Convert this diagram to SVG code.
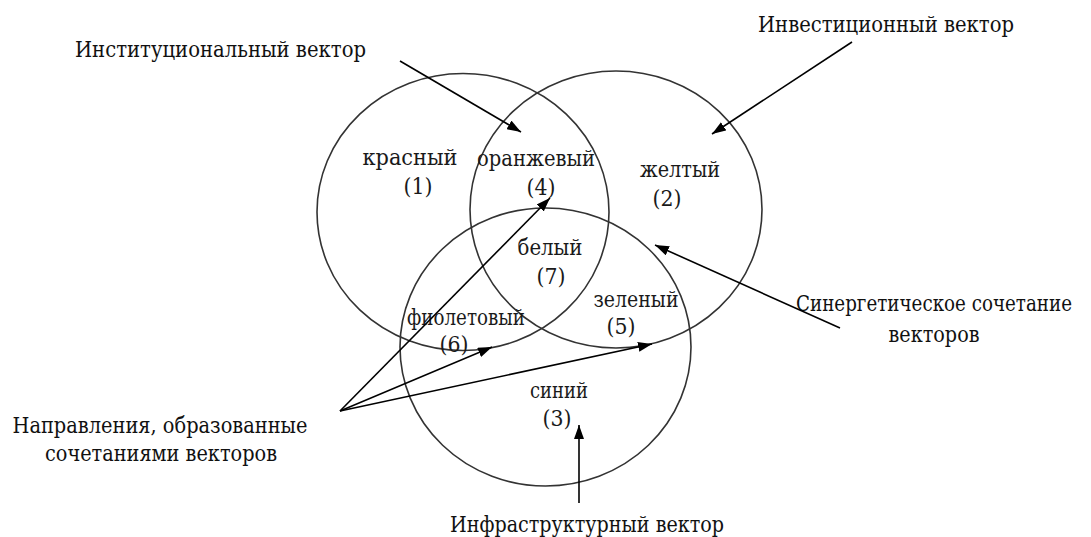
<svg xmlns="http://www.w3.org/2000/svg" width="1091" height="537" viewBox="0 0 1091 537">
<style>
.c{fill:none;stroke:#333;stroke-width:1.6}
.a{fill:none;stroke:#000;stroke-width:1.6}
.l{text-anchor:middle}
</style>
<defs>
<marker id="ah" viewBox="0 0 14 10" refX="14" refY="5" markerWidth="14" markerHeight="10" markerUnits="userSpaceOnUse" orient="auto">
<path d="M0,0 L14,5 L0,10 Z" fill="#000"/>
</marker>
</defs>
<rect width="1091" height="537" fill="#fff"/>
<g id="circle-red"><ellipse class="c" cx="463" cy="212" rx="146" ry="138.5"/></g>
<g id="circle-yellow"><ellipse class="c" cx="616" cy="209.5" rx="146" ry="138.5"/></g>
<g id="circle-blue"><ellipse class="c" cx="545.5" cy="347" rx="145.5" ry="139"/></g>
<g font-family="DejaVu Serif, serif" font-size="22" fill="#111">
<g id="region-labels" fill="#1a1a1a">
<g id="red"><text class="l" x="410" y="165" textLength="95" lengthAdjust="spacingAndGlyphs">красный</text><text class="l" x="418" y="194" textLength="29" lengthAdjust="spacingAndGlyphs">(1)</text></g>
<g id="orange"><text class="l" x="536" y="166" textLength="118" lengthAdjust="spacingAndGlyphs">оранжевый</text><text class="l" x="541" y="195" textLength="29" lengthAdjust="spacingAndGlyphs">(4)</text></g>
<g id="yellow"><text class="l" x="680" y="177" textLength="80" lengthAdjust="spacingAndGlyphs">желтый</text><text class="l" x="667" y="206" textLength="29" lengthAdjust="spacingAndGlyphs">(2)</text></g>
<g id="white"><text class="l" x="550" y="255" textLength="65" lengthAdjust="spacingAndGlyphs">белый</text><text class="l" x="551" y="284" textLength="29" lengthAdjust="spacingAndGlyphs">(7)</text></g>
<g id="green"><text class="l" x="636" y="307" textLength="85" lengthAdjust="spacingAndGlyphs">зеленый</text><text class="l" x="621" y="334" textLength="29" lengthAdjust="spacingAndGlyphs">(5)</text></g>
<g id="violet"><text class="l" x="466" y="325" textLength="118" lengthAdjust="spacingAndGlyphs">фиолетовый</text><text class="l" x="454" y="352" textLength="29" lengthAdjust="spacingAndGlyphs">(6)</text></g>
<g id="blue"><text class="l" x="559" y="398" textLength="58" lengthAdjust="spacingAndGlyphs">синий</text><text class="l" x="557" y="426" textLength="29" lengthAdjust="spacingAndGlyphs">(3)</text></g>
</g>
<g id="label-institutional"><text x="75" y="57" textLength="291" lengthAdjust="spacingAndGlyphs">Институциональный вектор</text></g>
<g id="label-investment"><text x="758" y="32" textLength="256" lengthAdjust="spacingAndGlyphs">Инвестиционный вектор</text></g>
<g id="label-synergy"><text class="l" x="934" y="311" textLength="276" lengthAdjust="spacingAndGlyphs">Синергетическое сочетание</text><text class="l" x="934" y="342" textLength="91" lengthAdjust="spacingAndGlyphs">векторов</text></g>
<g id="label-directions"><text class="l" x="160" y="433" textLength="295" lengthAdjust="spacingAndGlyphs">Направления, образованные</text><text class="l" x="161" y="461" textLength="232" lengthAdjust="spacingAndGlyphs">сочетаниями векторов</text></g>
<g id="label-infrastructure"><text class="l" x="587" y="532" textLength="274" lengthAdjust="spacingAndGlyphs">Инфраструктурный вектор</text></g>
</g>
<g id="connectors">
<line class="a" x1="400" y1="61" x2="521" y2="132" marker-end="url(#ah)"/>
<line class="a" x1="852" y1="42" x2="712" y2="134" marker-end="url(#ah)"/>
<line class="a" x1="840" y1="328" x2="655" y2="245" marker-end="url(#ah)"/>
<line class="a" x1="579" y1="503" x2="579" y2="425" marker-end="url(#ah)"/>
<line class="a" x1="340" y1="411" x2="550" y2="198" marker-end="url(#ah)"/>
<line class="a" x1="340" y1="411" x2="492" y2="347" marker-end="url(#ah)"/>
<line class="a" x1="340" y1="411" x2="652" y2="344" marker-end="url(#ah)"/>
</g>
</svg>
